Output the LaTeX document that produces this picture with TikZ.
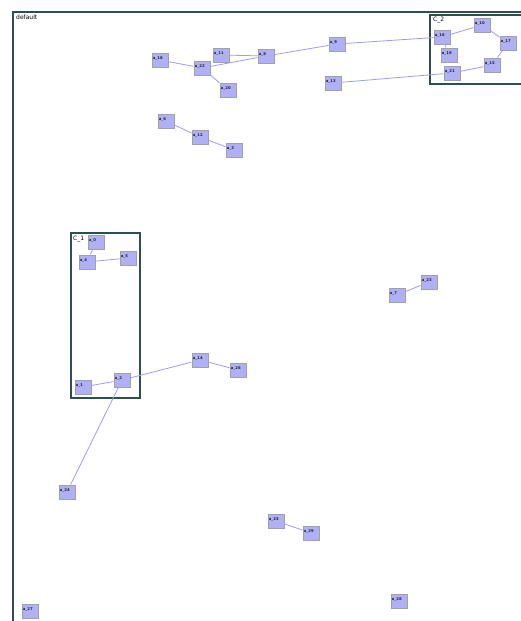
\documentclass[tikz,border=0pt]{standalone}
\usepackage{fontspec}
\setmainfont{DejaVu Sans}
\definecolor{framec}{HTML}{2F4F4F}
\definecolor{nodefill}{HTML}{B0B0F6}
\definecolor{nodeline}{HTML}{A0A0A8}
\definecolor{edgec}{HTML}{9C9CEC}
\tikzset{
  vtx/.style={draw=nodeline, fill=nodefill, line width=1pt, minimum width=16pt, minimum height=14pt, inner sep=0pt,
    label={[anchor=west, inner sep=0pt, xshift=1.2pt, yshift=1.8pt, font=\fontsize{3.8}{3.8}\selectfont\bfseries, text=black!85]west:#1}},
  edge/.style={draw=edgec, line width=0.8pt},
  clusterbox/.style={draw=framec, line width=1.3pt},
  tag/.style={anchor=north west, inner sep=0pt, font=\fontsize{6}{6}\selectfont}
}
\begin{document}
\begin{tikzpicture}[x=1pt,y=-1pt]
\useasboundingbox (0,0) rectangle (520,621);
% default frame
\draw[draw=framec, line width=1.2pt] (13,640) -- (13,12) -- (540,12);
\node[tag] (deflabel) at (16,15) {default};
% cluster C_2
\draw[clusterbox] (430,15) rectangle (540,84);
\node[tag] (c2label) at (433,17) {C\_2};
% cluster C_1
\draw[clusterbox] (71,233) rectangle (140,398);
\node[tag] (c1label) at (73,236) {C\_1};
% nodes top
\node[vtx={a\_18}] (n1) at (160,60) {};
\node[vtx={a\_22}] (n2) at (202,68) {};
\node[vtx={a\_11}] (n3) at (221,55) {};
\node[vtx={a\_20}] (n4) at (228,90) {};
\node[vtx={a\_8}]  (n5) at (266,56) {};
\node[vtx={a\_9}]  (n6) at (337,44) {};
\node[vtx={a\_13}] (n7) at (333,83) {};
% C_2 nodes
\node[vtx={a\_16}] (c1) at (442,37) {};
\node[vtx={a\_19}] (c2) at (449,55) {};
\node[vtx={a\_10}] (c3) at (482,25) {};
\node[vtx={a\_17}] (c4) at (508,43) {};
\node[vtx={a\_15}] (c5) at (492,65) {};
\node[vtx={a\_21}] (c6) at (452,73) {};
% middle
\node[vtx={a\_6}]  (m1) at (166,121) {};
\node[vtx={a\_12}] (m2) at (200,137) {};
\node[vtx={a\_3}]  (m3) at (234,150) {};
% C_1 nodes
\node[vtx={a\_0}]  (k1) at (96,242) {};
\node[vtx={a\_4}]  (k2) at (87,262) {};
\node[vtx={a\_5}]  (k3) at (128,258) {};
\node[vtx={a\_1}]  (k4) at (83,387) {};
\node[vtx={a\_2}]  (k5) at (122,380) {};
\node[vtx={a\_14}] (k6) at (200,360) {};
\node[vtx={a\_26}] (k7) at (238,370) {};
\node[vtx={a\_24}] (k8) at (67,492) {};
% right / bottom
\node[vtx={a\_7}]  (p1) at (397,295) {};
\node[vtx={a\_23}] (p2) at (429,282) {};
\node[vtx={a\_25}] (q1) at (276,521) {};
\node[vtx={a\_29}] (q2) at (311,533) {};
\node[vtx={a\_27}] (r1) at (30,611) {};
\node[vtx={a\_28}] (r2) at (399,601) {};
% edges
\draw[edge] (n1) -- (n2);
\draw[edge] (n2) -- (n4);
\draw[edge] (n2) -- (n5);
\draw[edge] (n3) -- (n5);
\draw[edge] (n5) -- (n6);
\draw[edge] (n6) -- (c1);
\draw[edge] (c1) -- (c3);
\draw[edge] (c1) -- (c2);
\draw[edge] (c3) -- (c4);
\draw[edge] (c4) -- (c5);
\draw[edge] (c5) -- (c6);
\draw[edge] (c6) -- (n7);
\draw[edge] (m1) -- (m2);
\draw[edge] (m2) -- (m3);
\draw[edge] (k1) -- (k2);
\draw[edge] (k2) -- (k3);
\draw[edge] (k4) -- (k5);
\draw[edge] (k5) -- (k6);
\draw[edge] (k6) -- (k7);
\draw[edge] (k5) -- (k8);
\draw[edge] (p1) -- (p2);
\draw[edge] (q1) -- (q2);
\end{tikzpicture}
\end{document}
